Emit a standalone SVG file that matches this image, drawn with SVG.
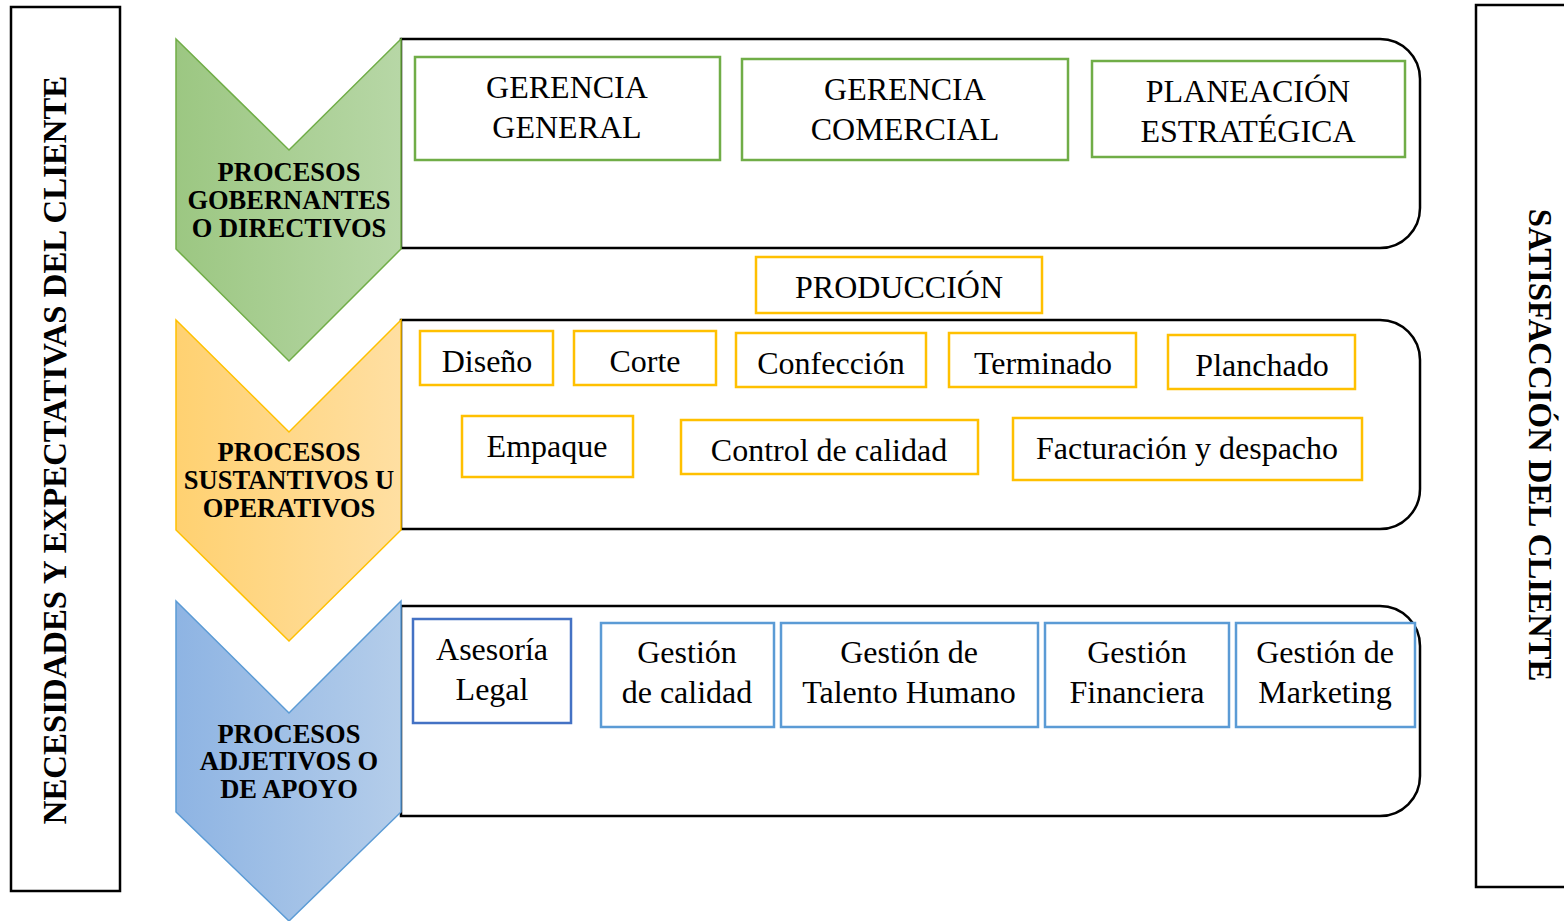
<svg xmlns="http://www.w3.org/2000/svg" width="1564" height="921" viewBox="0 0 1564 921">
<defs>
<linearGradient id="gG" x1="0" x2="1" y1="0" y2="0"><stop offset="0" stop-color="#9cc782"/><stop offset="1" stop-color="#b7d7a6"/></linearGradient>
<linearGradient id="gO" x1="0" x2="1" y1="0" y2="0"><stop offset="0" stop-color="#ffd171"/><stop offset="1" stop-color="#ffdfa2"/></linearGradient>
<linearGradient id="gB" x1="0" x2="1" y1="0" y2="0"><stop offset="0" stop-color="#8eb4e3"/><stop offset="1" stop-color="#b4cdea"/></linearGradient>
<style>
.t{font-family:"Liberation Serif","Times New Roman",serif;font-size:32px;fill:#000;text-anchor:middle}
.b{font-family:"Liberation Serif","Times New Roman",serif;font-size:26.5px;font-weight:bold;fill:#000;text-anchor:middle}
.v{font-family:"Liberation Serif","Times New Roman",serif;font-size:32.8px;font-weight:bold;fill:#000;text-anchor:middle}
.frame{fill:#fff;stroke:#000;stroke-width:2.5}
.g{fill:#fff;stroke:#70ad47;stroke-width:2.5}
.o{fill:#fff;stroke:#ffc000;stroke-width:2.5}
.bl{fill:#fff;stroke:#5b9bd5;stroke-width:2.5}
.bd{fill:#fff;stroke:#4472c4;stroke-width:2.5}
</style>
</defs>
<rect width="1564" height="921" fill="#fff"/>

<g id="left-side">
<rect class="frame" x="11" y="7" width="109" height="884"/>
<text class="v" transform="translate(66,450) rotate(-90)">NECESIDADES Y EXPECTATIVAS DEL CLIENTE</text>
</g>
<g id="right-side">
<rect class="frame" x="1476" y="5" width="100" height="882"/>
<text class="v" transform="translate(1529,445) rotate(90)">SATISFACCIÓN DEL CLIENTE</text>
</g>

<g id="gobernantes">
<path class="frame" d="M401,39 H1380 A40,40 0 0 1 1420,79 V208 A40,40 0 0 1 1380,248 H401 Z"/>
<polygon points="176,39 289,150 401,39 401,249 289,361 176,249" fill="url(#gG)" stroke="#70ad47" stroke-width="1.5"/>
<text class="b" x="289" y="181">PROCESOS</text>
<text class="b" x="289" y="209">GOBERNANTES</text>
<text class="b" x="289" y="237">O DIRECTIVOS</text>
</g>
<g id="sustantivos">
<path class="frame" d="M401,320 H1380 A40,40 0 0 1 1420,360 V489 A40,40 0 0 1 1380,529 H401 Z"/>
<polygon points="176,320 289,432 401,320 401,530 289,641 176,530" fill="url(#gO)" stroke="#ffc000" stroke-width="1.5"/>
<text class="b" x="289" y="461">PROCESOS</text>
<text class="b" x="289" y="489">SUSTANTIVOS U</text>
<text class="b" x="289" y="517">OPERATIVOS</text>
</g>
<g id="apoyo">
<path class="frame" d="M401,606 H1380 A40,40 0 0 1 1420,646 V776 A40,40 0 0 1 1380,816 H401 Z"/>
<polygon points="176,601 289,713 401,601 401,812 289,921 176,812" fill="url(#gB)" stroke="#5b9bd5" stroke-width="1.5"/>
<text class="b" x="289" y="743">PROCESOS</text>
<text class="b" x="289" y="770">ADJETIVOS O</text>
<text class="b" x="289" y="798">DE APOYO</text>
</g>

<g id="gerencia-general"><rect class="g" x="415" y="57" width="305" height="103"/><text class="t" x="567" y="98">GERENCIA</text><text class="t" x="567" y="138">GENERAL</text></g>
<g id="gerencia-comercial"><rect class="g" x="742" y="59" width="326" height="101"/><text class="t" x="905" y="100">GERENCIA</text><text class="t" x="905" y="140">COMERCIAL</text></g>
<g id="planeacion"><rect class="g" x="1092" y="61" width="313" height="96"/><text class="t" x="1248" y="102">PLANEACIÓN</text><text class="t" x="1248" y="142">ESTRATÉGICA</text></g>

<g id="produccion"><rect class="o" x="756" y="257" width="286" height="56"/><text class="t" x="899" y="298">PRODUCCIÓN</text></g>
<g id="diseno"><rect class="o" x="420" y="331" width="133" height="54"/><text class="t" x="487" y="372">Diseño</text></g>
<g id="corte"><rect class="o" x="574" y="331" width="142" height="54"/><text class="t" x="645" y="372">Corte</text></g>
<g id="confeccion"><rect class="o" x="736" y="333" width="190" height="54"/><text class="t" x="831" y="374">Confección</text></g>
<g id="terminado"><rect class="o" x="949" y="333" width="187" height="54"/><text class="t" x="1043" y="374">Terminado</text></g>
<g id="planchado"><rect class="o" x="1168" y="335" width="187" height="54"/><text class="t" x="1262" y="376">Planchado</text></g>
<g id="empaque"><rect class="o" x="462" y="416" width="171" height="61"/><text class="t" x="547" y="457">Empaque</text></g>
<g id="control"><rect class="o" x="681" y="420" width="297" height="54"/><text class="t" x="829" y="461">Control de calidad</text></g>
<g id="facturacion"><rect class="o" x="1013" y="418" width="349" height="62"/><text class="t" x="1187" y="459">Facturación y despacho</text></g>

<g id="asesoria"><rect class="bd" x="413" y="619" width="158" height="104"/><text class="t" x="492" y="660">Asesoría</text><text class="t" x="492" y="700">Legal</text></g>
<g id="gestion-calidad"><rect class="bl" x="601" y="623" width="173" height="104"/><text class="t" x="687" y="663">Gestión</text><text class="t" x="687" y="703">de calidad</text></g>
<g id="talento"><rect class="bl" x="781" y="623" width="257" height="104"/><text class="t" x="909" y="663">Gestión de</text><text class="t" x="909" y="703">Talento Humano</text></g>
<g id="financiera"><rect class="bl" x="1045" y="623" width="184" height="104"/><text class="t" x="1137" y="663">Gestión</text><text class="t" x="1137" y="703">Financiera</text></g>
<g id="marketing"><rect class="bl" x="1236" y="623" width="179" height="104"/><text class="t" x="1325" y="663">Gestión de</text><text class="t" x="1325" y="703">Marketing</text></g>

<g id="connectors"></g>
</svg>
